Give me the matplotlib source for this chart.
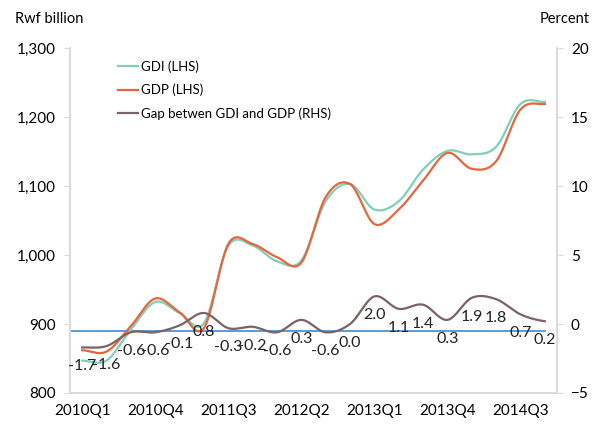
import numpy as np
import matplotlib
matplotlib.use("Agg")
import matplotlib.pyplot as plt
from matplotlib.ticker import FuncFormatter

plt.rcParams['font.family'] = ['Lato', 'DejaVu Sans']

# quarterly data, 2010Q1 - 2014Q4
quarters = ['2010Q1', '2010Q2', '2010Q3', '2010Q4', '2011Q1', '2011Q2', '2011Q3',
            '2011Q4', '2012Q1', '2012Q2', '2012Q3', '2012Q4', '2013Q1', '2013Q2',
            '2013Q3', '2013Q4', '2014Q1', '2014Q2', '2014Q3', '2014Q4']
gdi = [847, 847, 892, 932, 916, 901, 1013, 1014, 991, 992,
       1078, 1103, 1066, 1078, 1124, 1151, 1146, 1157, 1219, 1222]
gdp = [862, 860, 897, 937, 917, 894, 1016, 1016, 997, 989,
       1084, 1103, 1045, 1066, 1108, 1148, 1125, 1136, 1211, 1219]
gap = [-1.7, -1.6, -0.6, -0.6, -0.1, 0.8, -0.3, -0.2, -0.6, 0.3,
       -0.6, 0.0, 2.0, 1.1, 1.4, 0.3, 1.9, 1.8, 0.7, 0.2]
ref_level = 890


def smooth(y, n=24):
    # catmull-rom curve through the points (like excel's smoothed lines)
    y = np.asarray(y, float)
    p = np.concatenate([[y[0]], y, [y[-1]]])
    t = np.linspace(0, 1, n, endpoint=False)
    xs, ys = [], []
    for i in range(len(y) - 1):
        p0, p1, p2, p3 = p[i], p[i + 1], p[i + 2], p[i + 3]
        v = 0.5 * (2 * p1 + (-p0 + p2) * t + (2 * p0 - 5 * p1 + 4 * p2 - p3) * t ** 2
                   + (-p0 + 3 * p1 - 3 * p2 + p3) * t ** 3)
        xs.extend(i + t)
        ys.extend(v)
    xs.append(len(y) - 1)
    ys.append(y[-1])
    return np.array(xs), np.array(ys)


x = np.arange(len(quarters))
grey = '#d9d9d9'

fig = plt.figure(figsize=(5.96, 4.26), dpi=100)
ax = fig.add_axes([0.1174, 0.0775, 0.8172, 0.8095])
ax2 = ax.twinx()

ax.plot([-0.5, len(x) - 1], [ref_level, ref_level], color='#5b9bd5', lw=1.4, zorder=1)
sx, sy = smooth(gdi)
ax.plot(sx, sy, color='#7fd0b6', lw=1.6, label='GDI (LHS)', zorder=3)
sx, sy = smooth(gdp)
ax.plot(sx, sy, color='#e8643f', lw=1.6, label='GDP (LHS)', zorder=4)
sx, sy = smooth(gap)
ax2.plot(sx, sy, color='#7b6264', lw=1.6, label='Gap betwen GDI and GDP (RHS)')

for xi, g in zip(x, gap):
    ax2.annotate(f'{g:.1f}', (xi, g), xytext=(0, -19), textcoords='offset pixels',
                 ha='center', va='center', fontsize=11.5, color='#222222')

ax.set_xlim(-0.5, len(x) - 0.5)
ax.set_ylim(800, 1300)
ax.set_yticks(np.arange(800, 1301, 100))
ax.yaxis.set_major_formatter(FuncFormatter(lambda v, p: f'{int(v):,}'))
ax2.set_ylim(-5, 20)
ax2.set_yticks(np.arange(-5, 21, 5))
ax.set_xticks(x[::3])
ax.set_xticklabels(quarters[::3])

for a in (ax, ax2):
    a.spines['top'].set_visible(False)
    for s in ('left', 'right', 'bottom'):
        a.spines[s].set_color(grey)
        a.spines[s].set_linewidth(1.2)
    a.tick_params(axis='y', length=4, color=grey, labelsize=11, pad=6)
ax.tick_params(axis='x', length=0, labelsize=11, pad=8)

fig.text(0.025, 0.955, 'Rwf billion', fontsize=10.5, ha='left', va='center')
fig.text(0.99, 0.955, 'Percent', fontsize=10.5, ha='right', va='center')

h1, l1 = ax.get_legend_handles_labels()
h2, l2 = ax2.get_legend_handles_labels()
ax.legend(h1 + h2, l1 + l2, loc='upper left', bbox_to_anchor=(0.075, 1.0),
          frameon=False, fontsize=9.5, handlelength=1.5, handletextpad=0.2,
          labelspacing=0.85)

fig.savefig('out.png', dpi=100)
